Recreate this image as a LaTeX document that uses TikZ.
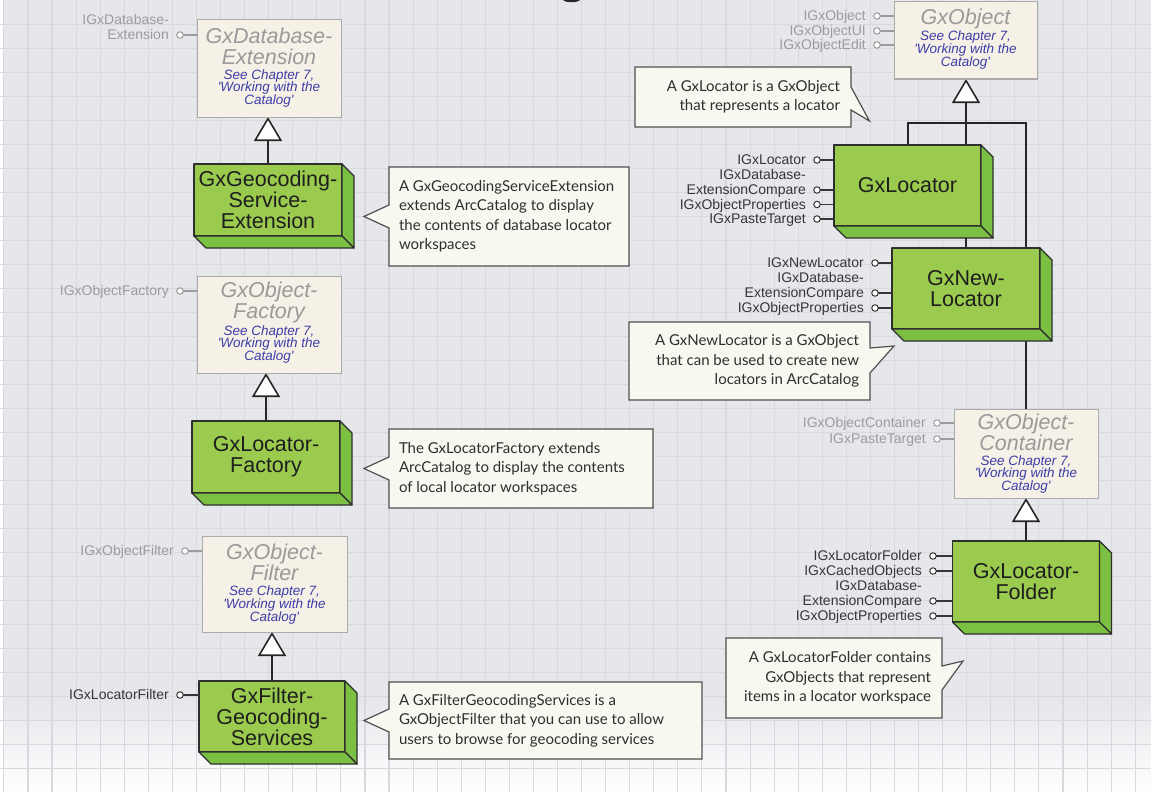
\documentclass[tikz,border=0pt]{standalone}
\usepackage{fontspec}
\setmainfont{Liberation Sans}
\newfontfamily\notefont{Lato}
\usetikzlibrary{arrows.meta,calc}

\pgfdeclarelayer{grid}
\pgfdeclarelayer{under}
\pgfsetlayers{grid,under,main}

\definecolor{bgc}{HTML}{E6E7EB}
\definecolor{gridc}{HTML}{D8D9DE}
\definecolor{frontg}{HTML}{9BCB4E}
\definecolor{sideg}{HTML}{7CC043}
\definecolor{edgec}{HTML}{2E2E2E}
\definecolor{absfill}{HTML}{F6F1E6}
\definecolor{absedge}{HTML}{ABABAB}
\definecolor{abstext}{HTML}{9A9A9A}
\definecolor{chapblue}{HTML}{3D3DA8}
\definecolor{notefill}{HTML}{F8F8F1}
\definecolor{noteedge}{HTML}{505050}
\definecolor{ifgray}{HTML}{9C9C9C}
\definecolor{ifdark}{HTML}{363636}
\definecolor{connc}{HTML}{262626}
\definecolor{classtext}{HTML}{1E1E1E}
\definecolor{notetext}{HTML}{2E2E2E}

\tikzset{
  concrete/.style={draw=edgec, fill=frontg, line width=1.3pt, outer sep=0pt,
    inner sep=0pt, align=center, text=classtext,
    font=\fontsize{21.5}{21}\selectfont, line join=round},
  side face/.style={draw=edgec, fill=sideg, line width=1.2pt, line join=round},
  abstract/.style={draw=absedge, fill=absfill, line width=1pt, outer sep=0pt, inner sep=0pt},
  abstitle/.style={text=abstext, align=center, inner sep=0pt,
    font=\fontsize{21.5}{21}\selectfont\itshape},
  chapref/.style={text=chapblue, align=center, inner sep=0pt,
    font=\fontsize{13.5}{12.8}\selectfont\itshape},
  notebox/.style={inner sep=0pt, outer sep=0pt},
  notetxt/.style={inner sep=0pt, outer sep=0pt, text=notetext,
    font=\notefont\fontsize{15}{19.5}\selectfont},
  note shape/.style={draw=noteedge, fill=notefill, line width=1.2pt, line join=miter},
  ifdot/.style={circle, draw=#1, fill=white, line width=1pt, minimum size=6.5pt,
    inner sep=0pt, outer sep=0pt},
  iftext/.style={text=#1, anchor=east, inner sep=0pt,
    font=\fontsize{14}{15}\selectfont, text height=12pt, text depth=2.4pt},
  ifline/.style={draw=#1, line width=1.1pt},
  conn/.style={draw=connc, line width=2pt},
  inherit/.style={conn, -{Triangle[length=24pt, width=28pt, fill=white, line width=1.6pt]}},
}

% interface lollipop: name, x, y, label, owning class, colour
\newcommand\lollipop[6]{%
  \node[ifdot=#6] (#1) at (#2,#3) {};
  \node[iftext=#6] (#1-text) at ($(#1)+(-11,0)$) {#4};
  \draw[ifline=#6] (#1.east) -- (#1 -| #5.west);
}
% second text line above a lollipop label
\newcommand\lollitop[3]{%
  \node[iftext=#3] (#1-top) at ($(#1)+(-11,-15)$) {#2};
}
% extruded faces of a class box
\newcommand\extrude[1]{%
  \filldraw[side face] (#1.north east) -- ++(12,12) -- ($(#1.south east)+(12,12)$)
    -- (#1.south east) -- cycle;
  \filldraw[side face] (#1.south west) -- ($(#1.south west)+(12,12)$)
    -- ($(#1.south east)+(12,12)$) -- (#1.south east) -- cycle;
}
\newcommand\chapterref{See Chapter 7,\\\textquotesingle Working with the\\Catalog\textquotesingle}

\begin{document}
\begin{tikzpicture}[x=1pt, y=-1pt]
\useasboundingbox (0,0) rectangle (1151,792);

% ---------- squared paper ----------
\begin{pgfonlayer}{grid}
  \fill[bgc] (0,0) rectangle (1151,792);
  \shade[top color=bgc, bottom color=white] (0,700) rectangle (1151,792);
  \fill[white] (0,0) rectangle (3,792);
  \foreach \i in {0,...,47}
    \draw[gridc, line width=1.1pt] ({3.9+24.07*\i},0) -- ++(0,792);
  \foreach \j in {1,...,32}
    \draw[gridc, line width=1.1pt] (0,{0.5+24*\j}) -- ++(1151,0);
  % foot of the page heading
  \fill[black!85] (563,0) .. controls (566,3) and (577,3) .. (580,0) -- cycle;
\end{pgfonlayer}

% ---------- left column ----------
\node[abstract, minimum width=144pt, minimum height=97pt] (dbext) at (269,68.5) {};
\node[abstitle] (dbext-title) at (269,46.5) {GxDatabase-\\Extension};
\node[chapref] (dbext-ref) at (269,88.5) {\chapterref};
\lollipop{dbext-if}{180}{35}{Extension}{dbext}{ifgray}
\lollitop{dbext-if}{IGxDatabase-}{ifgray}

\node[concrete, minimum width=148pt, minimum height=72pt] (gse) at (268,200)
  {GxGeocoding-\\Service-\\Extension};
\extrude{gse}

\node[abstract, minimum width=144pt, minimum height=97pt] (objfac) at (269,324.5) {};
\node[abstitle] (objfac-title) at (269,302.5) {GxObject-\\Factory};
\node[chapref] (objfac-ref) at (269,344.5) {\chapterref};
\lollipop{objfac-if}{180}{291}{IGxObjectFactory}{objfac}{ifgray}

\node[concrete, minimum width=148pt, minimum height=72pt] (locfac) at (266,457)
  {GxLocator-\\Factory};
\extrude{locfac}

\node[abstract, minimum width=145pt, minimum height=96pt] (objfilt) at (274.5,584) {};
\node[abstitle] (objfilt-title) at (274.5,562) {GxObject-\\Filter};
\node[chapref] (objfilt-ref) at (274.5,605) {\chapterref};
\lollipop{objfilt-if}{185}{551}{IGxObjectFilter}{objfilt}{ifgray}

\node[concrete, minimum width=146pt, minimum height=71pt] (filtgs) at (272,716.5)
  {GxFilter-\\Geocoding-\\Services};
\extrude{filtgs}
\lollipop{filtgs-if}{180}{695}{IGxLocatorFilter}{filtgs}{ifdark}

% ---------- right column ----------
\node[abstract, minimum width=143pt, minimum height=77pt] (obj) at (965.5,40.5) {};
\node[abstitle] (obj-title) at (965.5,19) {GxObject};
\node[chapref] (obj-ref) at (965.5,50) {\chapterref};
\lollipop{obj-if1}{877}{16}{IGxObject}{obj}{ifgray}
\lollipop{obj-if2}{877}{31}{IGxObjectUI}{obj}{ifgray}
\lollipop{obj-if3}{877}{45}{IGxObjectEdit}{obj}{ifgray}

\node[concrete, minimum width=147pt, minimum height=81pt] (loc) at (907.5,185.5) {GxLocator};
\extrude{loc}
\lollipop{loc-if1}{817}{160}{IGxLocator}{loc}{ifdark}
\lollipop{loc-if2}{817}{190}{ExtensionCompare}{loc}{ifdark}
\lollitop{loc-if2}{IGxDatabase-}{ifdark}
\lollipop{loc-if3}{817}{204.5}{IGxObjectProperties}{loc}{ifdark}
\lollipop{loc-if4}{817}{219}{IGxPasteTarget}{loc}{ifdark}

\node[concrete, minimum width=148pt, minimum height=81pt] (newloc) at (966,288.5) {GxNew-\\Locator};
\extrude{newloc}
\lollipop{newloc-if1}{875}{263}{IGxNewLocator}{newloc}{ifdark}
\lollipop{newloc-if2}{875}{293}{ExtensionCompare}{newloc}{ifdark}
\lollitop{newloc-if2}{IGxDatabase-}{ifdark}
\lollipop{newloc-if3}{875}{308}{IGxObjectProperties}{newloc}{ifdark}

\node[abstract, minimum width=144pt, minimum height=89pt] (container) at (1026,453.5) {};
\node[abstitle] (container-title) at (1026,432.5) {GxObject-\\Container};
\node[chapref] (container-ref) at (1026,474.5) {\chapterref};
\lollipop{container-if1}{937}{423}{IGxObjectContainer}{container}{ifgray}
\lollipop{container-if2}{937}{439}{IGxPasteTarget}{container}{ifgray}

\node[concrete, minimum width=147pt, minimum height=81pt] (folder) at (1026,581.5) {GxLocator-\\Folder};
\extrude{folder}
\lollipop{folder-if1}{933}{556}{IGxLocatorFolder}{folder}{ifdark}
\lollipop{folder-if2}{933}{571}{IGxCachedObjects}{folder}{ifdark}
\lollipop{folder-if3}{933}{601}{ExtensionCompare}{folder}{ifdark}
\lollitop{folder-if3}{IGxDatabase-}{ifdark}
\lollipop{folder-if4}{933}{616}{IGxObjectProperties}{folder}{ifdark}

% ---------- notes ----------
\node[notebox, minimum width=240pt, minimum height=99pt] (gsenote) at (509,216.5) {};
\node[notetxt, anchor=west, align=left] (gsenote-text) at ($(gsenote.west)+(10,0)$)
  {A GxGeocodingServiceExtension\\extends ArcCatalog to display\\the contents of database locator\\workspaces};
\node[notebox, minimum width=264pt, minimum height=79pt] (facnote) at (521,468.5) {};
\node[notetxt, anchor=west, align=left] (facnote-text) at ($(facnote.west)+(10,0)$)
  {The GxLocatorFactory extends\\ArcCatalog to display the contents\\of local locator workspaces};
\node[notebox, minimum width=313pt, minimum height=77pt] (filtnote) at (545.5,720.5) {};
\node[notetxt, anchor=west, align=left] (filtnote-text) at ($(filtnote.west)+(10,0)$)
  {A GxFilterGeocodingServices is a\\GxObjectFilter that you can use to allow\\users to browse for geocoding services};

\node[notebox, minimum width=216pt, minimum height=60pt] (locnote) at (743,97) {};
\node[notetxt, anchor=east, align=right] (locnote-text) at ($(locnote.east)+(-11,0)$)
  {A GxLocator is a GxObject\\that represents a locator};
\coordinate (locnote-tip) at (869.5,121);
\node[notebox, minimum width=241pt, minimum height=78pt] (newlocnote) at (749.5,361) {};
\node[notetxt, anchor=east, align=right] (newlocnote-text) at ($(newlocnote.east)+(-11,0)$)
  {A GxNewLocator is a GxObject\\that can be used to create new\\locators in ArcCatalog};
\coordinate (newlocnote-tip) at (894,346);
\node[notebox, minimum width=216pt, minimum height=80pt] (foldernote) at (834,678) {};
\node[notetxt, anchor=east, align=right] (foldernote-text) at ($(foldernote.east)+(-11,0)$)
  {A GxLocatorFolder contains\\GxObjects that represent\\items in a locator workspace};
\coordinate (foldernote-tip) at (963,661);

\coordinate (bar) at (966,123);

\begin{pgfonlayer}{under}
  % note outlines with their pointers
  \foreach \n in {gsenote,facnote,filtnote}
    \draw[note shape] (\n.north west) -- (\n.north east) -- (\n.south east) -- (\n.south west)
      -- ($(\n.west)+(0,11.5)$) -- ($(\n.west)+(-25,0)$) -- ($(\n.west)+(0,-11.5)$) -- cycle;
  \draw[note shape] (locnote.north west) -- (locnote.north east) -- ($(locnote.north east)+(0,20)$)
    -- (locnote-tip) -- ($(locnote.north east)+(0,43)$) -- (locnote.south east)
    -- (locnote.south west) -- cycle;
  \draw[note shape] (newlocnote.north west) -- (newlocnote.north east)
    -- ($(newlocnote.north east)+(0,26)$) -- (newlocnote-tip)
    -- ($(newlocnote.north east)+(0,51)$) -- (newlocnote.south east)
    -- (newlocnote.south west) -- cycle;
  \draw[note shape] (foldernote.north west) -- (foldernote.north east)
    -- ($(foldernote.north east)+(0,28)$) -- (foldernote-tip)
    -- ($(foldernote.north east)+(0,52)$) -- (foldernote.south east)
    -- (foldernote.south west) -- cycle;

  % inheritance
  \draw[inherit] (gse.north) -- (gse.north |- dbext.south);
  \draw[inherit] (locfac.north) -- (locfac.north |- objfac.south);
  \draw[inherit] (filtgs.north) -- (filtgs.north |- objfilt.south);
  \draw[inherit] (newloc.north) -- (newloc.north |- obj.south);
  \draw[conn] (loc.north) |- (bar) -| (container.north);
  \draw[inherit] (folder.north) -- (folder.north |- container.south);
\end{pgfonlayer}
\end{tikzpicture}
\end{document}
